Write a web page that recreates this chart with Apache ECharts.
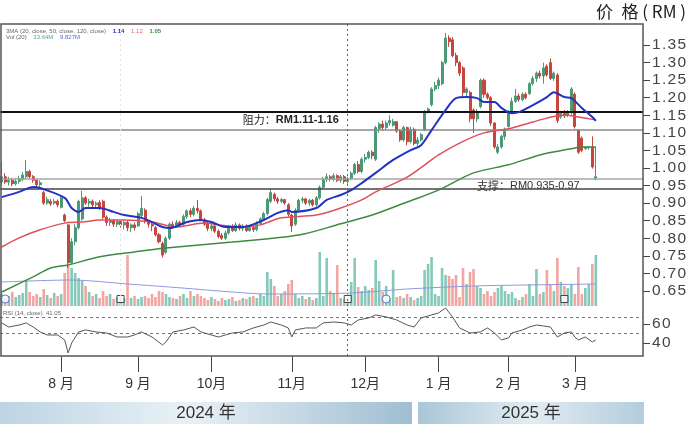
<!DOCTYPE html>
<html><head><meta charset="utf-8">
<script src="https://cdn.jsdelivr.net/npm/echarts@6/dist/echarts.min.js"></script>
<style>html,body{margin:0;padding:0;background:#fff}#c{width:690px;height:424px}</style>
</head><body><div id="c"></div>
<script>
// ---------- data ----------
const opens = [
0.960,0.975,0.960,0.965,0.955,0.962,0.968,0.975,0.990,0.975,
0.965,0.952,0.930,0.900,0.905,0.900,0.905,0.888,0.866,0.838,
0.730,0.790,0.830,0.855,0.915,0.900,0.905,0.895,0.902,0.905,
0.860,0.845,0.850,0.840,0.848,0.838,0.845,0.830,0.838,0.835,
0.865,0.880,0.848,0.840,0.830,0.810,0.785,0.760,0.800,0.840,
0.835,0.845,0.840,0.862,0.878,0.868,0.885,0.878,0.852,0.842,
0.828,0.835,0.820,0.808,0.800,0.815,0.830,0.822,0.838,0.828,
0.835,0.822,0.830,0.825,0.842,0.855,0.870,0.905,0.925,0.912,
0.905,0.910,0.895,0.866,0.840,0.880,0.908,0.912,0.900,0.908,
0.895,0.915,0.945,0.968,0.975,0.968,0.978,0.965,0.975,0.962,
0.970,0.985,1.010,0.990,1.025,1.030,1.045,1.025,1.112,1.125,
1.115,1.128,1.122,1.132,1.105,1.080,1.115,1.075,1.110,1.070,
1.080,1.108,1.160,1.180,1.225,1.235,1.240,1.300,1.370,1.365,
1.320,1.300,1.285,1.215,1.215,1.165,1.140,1.175,1.250,1.210,
1.200,1.128,1.045,1.060,1.090,1.118,1.160,1.190,1.205,1.195,
1.210,1.212,1.240,1.255,1.270,1.262,1.290,1.300,1.255,1.265,
1.145,1.155,1.150,1.157,1.210,1.108,1.085,1.055,1.058,1.060,
0.970];
const closes = [
0.975,0.960,0.965,0.955,0.962,0.970,0.980,0.990,0.975,0.965,
0.952,0.958,0.900,0.910,0.898,0.905,0.895,0.915,0.850,0.730,
0.790,0.830,0.905,0.915,0.900,0.905,0.895,0.900,0.885,0.860,
0.845,0.850,0.840,0.848,0.838,0.845,0.830,0.838,0.830,0.870,
0.885,0.848,0.840,0.835,0.810,0.790,0.752,0.800,0.840,0.835,
0.845,0.838,0.862,0.878,0.868,0.885,0.878,0.852,0.840,0.828,
0.835,0.820,0.805,0.800,0.815,0.830,0.822,0.838,0.828,0.835,
0.822,0.830,0.825,0.842,0.855,0.870,0.910,0.930,0.912,0.905,
0.910,0.900,0.868,0.835,0.880,0.908,0.912,0.900,0.908,0.895,
0.915,0.945,0.968,0.975,0.968,0.978,0.965,0.975,0.962,0.970,
0.985,1.010,0.990,1.025,1.030,1.045,1.035,1.115,1.125,1.115,
1.128,1.135,1.132,1.105,1.080,1.115,1.075,1.110,1.070,1.080,
1.095,1.160,1.168,1.225,1.235,1.250,1.300,1.370,1.360,1.320,
1.300,1.270,1.215,1.225,1.140,1.140,1.160,1.250,1.210,1.200,
1.128,1.060,1.060,1.090,1.110,1.160,1.190,1.205,1.195,1.210,
1.200,1.240,1.255,1.270,1.262,1.285,1.265,1.255,1.270,1.135,
1.155,1.148,1.160,1.225,1.118,1.045,1.050,1.058,1.060,1.003,
0.975];
const lows = [
0.950,0.955,0.950,0.948,0.950,0.955,0.962,0.970,0.970,0.958,
0.945,0.945,0.895,0.895,0.892,0.895,0.888,0.885,0.845,0.715,
0.725,0.780,0.825,0.850,0.895,0.890,0.888,0.885,0.880,0.855,
0.835,0.835,0.832,0.832,0.830,0.825,0.820,0.818,0.822,0.832,
0.860,0.842,0.830,0.820,0.805,0.785,0.745,0.755,0.795,0.828,
0.830,0.830,0.835,0.855,0.860,0.862,0.870,0.848,0.835,0.820,
0.820,0.815,0.800,0.795,0.795,0.810,0.818,0.818,0.822,0.820,
0.818,0.818,0.818,0.820,0.838,0.850,0.865,0.900,0.905,0.898,
0.900,0.895,0.862,0.818,0.835,0.875,0.900,0.895,0.892,0.890,
0.890,0.910,0.940,0.960,0.962,0.962,0.960,0.958,0.955,0.955,
0.965,0.980,0.985,0.985,1.015,1.025,1.025,1.020,1.100,1.105,
1.110,1.120,1.118,1.100,1.075,1.075,1.065,1.070,1.065,1.062,
1.075,1.105,1.155,1.175,1.218,1.225,1.235,1.295,1.345,1.315,
1.290,1.262,1.205,1.205,1.130,1.100,1.130,1.170,1.200,1.195,
1.120,1.055,1.040,1.055,1.080,1.115,1.155,1.185,1.188,1.190,
1.195,1.208,1.235,1.245,1.255,1.240,1.260,1.250,1.248,1.128,
1.140,1.142,1.145,1.152,1.112,1.040,1.045,1.052,1.052,0.998,
0.965];
const highs = [
1.017,0.985,0.975,0.972,0.970,0.978,0.988,1.023,0.995,0.980,
0.968,0.965,0.935,0.918,0.912,0.912,0.910,0.920,0.870,0.840,
0.800,0.840,0.910,0.935,0.920,0.912,0.910,0.905,0.908,0.910,
0.865,0.858,0.855,0.852,0.852,0.850,0.850,0.842,0.845,0.875,
0.920,0.885,0.852,0.845,0.835,0.815,0.790,0.805,0.845,0.848,
0.852,0.850,0.868,0.882,0.885,0.892,0.909,0.882,0.858,0.848,
0.840,0.840,0.825,0.815,0.822,0.838,0.840,0.845,0.842,0.840,
0.840,0.835,0.838,0.848,0.860,0.875,0.915,0.940,0.930,0.918,
0.915,0.912,0.900,0.870,0.885,0.912,0.918,0.915,0.912,0.912,
0.920,0.950,0.975,0.985,0.980,0.985,0.982,0.980,0.980,0.975,
0.990,1.015,1.020,1.030,1.040,1.050,1.050,1.120,1.130,1.135,
1.135,1.150,1.140,1.132,1.110,1.120,1.118,1.118,1.115,1.088,
1.100,1.165,1.172,1.230,1.245,1.258,1.305,1.384,1.378,1.372,
1.328,1.305,1.290,1.230,1.220,1.170,1.168,1.255,1.255,1.215,
1.205,1.130,1.068,1.095,1.115,1.165,1.200,1.225,1.212,1.215,
1.215,1.245,1.262,1.275,1.278,1.300,1.295,1.312,1.275,1.270,
1.160,1.165,1.165,1.230,1.215,1.110,1.090,1.062,1.062,1.090,
1.060];
const volumes = [
12,8,10,14,9,11,13,26,14,10,
12,9,17,11,8,13,10,12,33,41,
38,33,28,25,20,14,10,12,8,15,
10,12,7,9,11,8,51,8,10,7,
9,10,8,12,9,15,14,12,9,8,
7,10,12,8,15,10,12,10,8,6,
9,7,5,8,6,7,9,5,6,8,
7,9,10,8,12,10,34,27,20,10,
12,15,22,26,12,8,10,7,9,6,
8,54,10,48,15,12,41,8,7,9,
24,48,19,15,20,16,18,46,25,14,
20,8,36,9,10,8,12,9,6,8,
10,36,42,49,12,10,38,31,30,27,
31,9,38,22,34,37,20,18,12,15,
10,14,18,20,15,12,14,8,6,9,
12,22,10,37,12,14,36,22,15,48,
24,20,18,22,12,39,12,18,22,42,
51];
// moving averages read at sample points: [candle index, value]
const ma20 = [[0,0.917],[5,0.932],[9,0.946],[11,0.943],[18,0.915],[20,0.886],[22,0.875],[24,0.886],[28,0.886],[32,0.875],[35,0.866],[40,0.858],[43,0.846],[46,0.832],[48,0.829],[53,0.846],[57,0.852],[60,0.846],[64,0.832],[69,0.832],[75,0.852],[79,0.872],[82,0.880],[83,0.875],[90,0.886],[93,0.909],[97,0.923],[100,0.937],[103,0.957],[107,0.986],[112,1.023],[117,1.051],[120,1.065],[123,1.108],[127,1.165],[130,1.199],[133,1.202],[136,1.199],[138,1.188],[141,1.188],[143,1.171],[146,1.156],[148,1.159],[152,1.179],[156,1.202],[158,1.216],[161,1.202],[163,1.199],[166,1.171],[169,1.145],[170,1.134]];
const ma50 = [[0,0.775],[5,0.801],[11,0.824],[18,0.843],[23,0.846],[28,0.852],[35,0.852],[43,0.846],[50,0.832],[58,0.843],[62,0.838],[70,0.832],[74,0.838],[80,0.858],[90,0.866],[97,0.886],[103,0.909],[107,0.932],[116,0.974],[125,1.037],[131,1.071],[138,1.100],[146,1.114],[152,1.131],[156,1.142],[161,1.151],[165,1.145],[170,1.137]];
const ma120 = [[0,0.647],[9,0.690],[14,0.715],[19,0.724],[28,0.747],[38,0.761],[47,0.772],[66,0.789],[85,0.809],[97,0.841],[106,0.866],[116,0.903],[125,0.937],[135,0.986],[145,1.009],[154,1.037],[164,1.057],[166,1.060],[170,1.060]];
const volMA = [[0,24],[20,26],[36,22],[48,19],[66,14],[76,12],[100,13],[116,17],[135,20],[150,21],[170,22]];
const rsi = [[0,61.1],[2,56.8],[5,58.9],[7,61.1],[9,56.8],[11,51.6],[13,48.4],[16,48.4],[18,43.2],[19,29.5],[20,40.0],[22,51.6],[24,53.7],[27,51.6],[30,50.5],[33,46.3],[36,46.3],[38,48.4],[40,51.6],[43,46.3],[46,37.9],[47,41.1],[49,51.6],[52,53.7],[55,56.8],[57,51.6],[60,48.4],[62,46.3],[64,48.4],[66,50.5],[69,51.6],[72,55.8],[75,58.9],[77,62.1],[80,58.9],[82,55.8],[83,46.3],[84,53.7],[87,55.8],[90,55.8],[92,61.1],[95,62.1],[98,61.1],[100,58.9],[102,64.2],[105,66.3],[107,69.5],[110,67.4],[113,64.2],[116,58.9],[118,56.8],[120,66.3],[123,69.5],[125,71.6],[127,76.8],[129,67.4],[131,55.8],[134,50.5],[137,51.6],[139,55.8],[141,50.5],[143,43.2],[145,45.3],[146,50.5],[149,53.7],[151,56.8],[153,58.9],[155,57.9],[157,56.8],[159,46.3],[161,50.5],[163,51.6],[164,46.3],[165,43.2],[167,46.3],[169,41.1],[170,43.2]];
const events = [[1,'circle'],[34,'rect'],[99,'rect'],[110,'circle'],[161,'rect']];
const monthTicks = [[17,'8 月'],[39,'9 月'],[60,'10月'],[83,'11月'],[104,'12月'],[125,'1 月'],[145,'2 月'],[164,'3 月']];
const priceTicks = [0.65,0.70,0.75,0.80,0.85,0.90,0.95,1.00,1.05,1.10,1.15,1.20,1.25,1.30,1.35];
const rsiTicks = [40,60];
const rsiBands = [67,50];
const resistance = [1.11,1.16];
const support = [0.935,0.97];
const yearLabels = ['2024 年','2025 年'];
const maLast = ['1.14','1.12','1.05'];
const cursorIndex = 99;
const ghostIndex = 34;

// ---------- chart ----------
const SLOTS = 184;
const cats = Array.from({length:SLOTS},(_,i)=>String(i));
const monthMap = {}; monthTicks.forEach(([i,l])=>{monthMap[i]=l;});
const UP='#4b9a75', DOWN='#c4463e', VUP='#86c9ba', VDOWN='#f2a6a1';
const candles = opens.map((o,i)=>[o,closes[i],lows[i],highs[i]]);
const volData = volumes.map((v,i)=>({value:v,itemStyle:{color:closes[i]>=opens[i]?VUP:VDOWN}}));
const toPts = a=>a.map(([i,v])=>[String(i),v]);
const FONT='Liberation Sans, Noto Sans CJK SC, sans-serif';
const spaced = s=>String(s).split('').join('\u200a');

const chart = echarts.init(document.getElementById('c'));
chart.setOption({
  animation:false,
  grid:[
    {left:0,width:643,top:24,height:282},
    {left:0,width:643,top:252,height:54},
    {left:0,width:643,top:306,height:50}
  ],
  xAxis:[
    {type:'category',gridIndex:0,data:cats,show:false},
    {type:'category',gridIndex:1,data:cats,show:false},
    {type:'category',gridIndex:2,data:cats,axisLine:{show:false},splitLine:{show:false},
     axisTick:{show:true,alignWithLabel:true,interval:(i)=>monthMap[i]!==undefined,length:16,lineStyle:{color:'#444',width:1}},
     axisLabel:{interval:(i)=>monthMap[i]!==undefined,formatter:(v)=>monthMap[Number(v)]||'',margin:21,fontSize:14,color:'#333',fontFamily:FONT}}
  ],
  yAxis:[
    {type:'value',gridIndex:0,position:'right',min:0.607,max:1.41,splitLine:{show:false},axisLine:{show:false},
     axisTick:{show:true,customValues:priceTicks,length:7,lineStyle:{color:'#444'}},
     axisLabel:{customValues:priceTicks,formatter:v=>spaced(Number(v).toFixed(2)),margin:9,fontSize:15.5,color:'#444',fontFamily:'Liberation Sans'}},
    {type:'value',gridIndex:1,min:0,max:54,show:false},
    {type:'value',gridIndex:2,position:'right',min:26.3,max:78.9,splitLine:{show:false},axisLine:{show:false},
     axisTick:{show:true,customValues:rsiTicks,length:7,lineStyle:{color:'#444'}},
     axisLabel:{customValues:rsiTicks,formatter:v=>spaced(v),margin:9,fontSize:15.5,color:'#444',fontFamily:'Liberation Sans'}}
  ],
  series:[
    {type:'bar',xAxisIndex:1,yAxisIndex:1,data:volData,barWidth:'75%',z:1},
    {type:'line',xAxisIndex:1,yAxisIndex:1,data:toPts(volMA),smooth:0.3,showSymbol:false,lineStyle:{color:'#8e98dc',width:1},z:2},
    {type:'scatter',xAxisIndex:1,yAxisIndex:1,z:3,
     data:events.map(([i,s])=>({value:[String(i),7],symbol:s,symbolSize:s==='rect'?7:8,
       itemStyle:{color:'#fff',borderColor:s==='rect'?'#222':'#3a5bd0',borderWidth:1}}))},
    {type:'candlestick',xAxisIndex:0,yAxisIndex:0,data:candles,barWidth:'72%',z:4,
     itemStyle:{color:UP,color0:DOWN,borderColor:UP,borderColor0:DOWN,borderWidth:1},
     markLine:{symbol:'none',silent:true,label:{show:false},animation:false,data:[
       {yAxis:resistance[1],lineStyle:{color:'#111',width:2,type:'solid'}},
       {yAxis:resistance[0],lineStyle:{color:'#8a8a8a',width:1.5,type:'solid'}},
       {yAxis:support[1],lineStyle:{color:'#a5a5a5',width:1.5,type:'solid'}},
       {yAxis:support[0],lineStyle:{color:'#444',width:1.5,type:'solid'}},
       {xAxis:String(cursorIndex),lineStyle:{color:'#666',width:1,type:[2,3]}},
       {xAxis:String(ghostIndex),lineStyle:{color:'#e4e4e4',width:1,type:[2,3]}}
     ]}},
    {type:'line',xAxisIndex:0,yAxisIndex:0,data:toPts(ma120),smooth:0.3,showSymbol:false,lineStyle:{color:'#3f8a3f',width:1.5},z:5},
    {type:'line',xAxisIndex:0,yAxisIndex:0,data:toPts(ma50),smooth:0.3,showSymbol:false,lineStyle:{color:'#e0505c',width:1.5},z:5},
    {type:'line',xAxisIndex:0,yAxisIndex:0,data:toPts(ma20),smooth:0.3,showSymbol:false,lineStyle:{color:'#2233c4',width:2},z:6},
    {type:'line',xAxisIndex:2,yAxisIndex:2,data:toPts(rsi),showSymbol:false,lineStyle:{color:'#555',width:1},z:5,
     markLine:{symbol:'none',silent:true,label:{show:false},animation:false,data:[
       {yAxis:rsiBands[0],lineStyle:{color:'#777',width:1,type:[3,3]}},
       {yAxis:rsiBands[1],lineStyle:{color:'#777',width:1,type:[3,3]}},
       {xAxis:String(cursorIndex),lineStyle:{color:'#666',width:1,type:[2,3]}}
     ]}}
  ]
});

const pR = chart.convertToPixel({gridIndex:0},[ '69', 1.1366 ]);
const pS = chart.convertToPixel({gridIndex:0},[ '136', 0.9488 ]);
const band = (x,w,stops)=>({type:'rect',shape:{x:x,y:402,width:w,height:22},
  style:{fill:new echarts.graphic.LinearGradient(0,0,1,0,stops)},silent:true});
chart.setOption({graphic:[
  {type:'rect',shape:{x:1,y:24,width:642,height:332},style:{fill:null,stroke:'#555',lineWidth:1.5},z:100,silent:true},
  band(0,412,[{offset:0,color:'#bcd4e3'},{offset:0.45,color:'#e9f1f6'},{offset:1,color:'#9fbed2'}]),
  band(418,226,[{offset:0,color:'#a9c6d8'},{offset:0.5,color:'#e2ecf2'},{offset:1,color:'#b3cddd'}]),
  {type:'text',x:206,y:413,style:{text:yearLabels[0],font:'17px '+FONT,fill:'#333',align:'center',verticalAlign:'middle'},silent:true},
  {type:'text',x:531,y:413,style:{text:yearLabels[1],font:'17px '+FONT,fill:'#333',align:'center',verticalAlign:'middle'},silent:true},
  {type:'text',x:686,y:12,style:{text:'价\u2002格 ( RM )',font:'17px Noto Sans CJK SC',fill:'#222',align:'right',verticalAlign:'middle'},silent:true},
  {type:'text',x:pR[0],y:pR[1],style:{text:'{a|阻力：}{b|RM1.11-1.16}',align:'left',verticalAlign:'middle',
    rich:{a:{font:'11px Noto Sans CJK SC',fill:'#222'},b:{font:'bold 11px Liberation Sans',fill:'#222'}}},silent:true},
  {type:'text',x:pS[0],y:pS[1],style:{text:'{a|支撑：}{b|RM0.935-0.97}',align:'left',verticalAlign:'middle',
    rich:{a:{font:'11px Noto Sans CJK SC',fill:'#333'},b:{font:'11px Liberation Sans',fill:'#333'}}},silent:true},
  {type:'text',x:6,y:31,style:{text:'{a|3MA (20, close, 50, close, 120, close)}  {b|'+maLast[0]+'}  {c|'+maLast[1]+'}  {d|'+maLast[2]+'}',verticalAlign:'middle',
    rich:{a:{font:'6px Liberation Sans',fill:'#666'},b:{font:'bold 6px Liberation Sans',fill:'#2233c4'},c:{font:'6px Liberation Sans',fill:'#e06a74'},d:{font:'bold 6px Liberation Sans',fill:'#3f8a3f'}}},silent:true},
  {type:'text',x:6,y:37,style:{text:'{a|Vol (20)}  {b|33.64M}  {c|9.827M}',verticalAlign:'middle',
    rich:{a:{font:'6px Liberation Sans',fill:'#666'},b:{font:'6px Liberation Sans',fill:'#4aa88f'},c:{font:'6px Liberation Sans',fill:'#5a6ad0'}}},silent:true},
  {type:'text',x:3,y:313,style:{text:'RSI (14, close)  41.05',font:'6px Liberation Sans',fill:'#666',verticalAlign:'middle'},silent:true}
]});
</script></body></html>
